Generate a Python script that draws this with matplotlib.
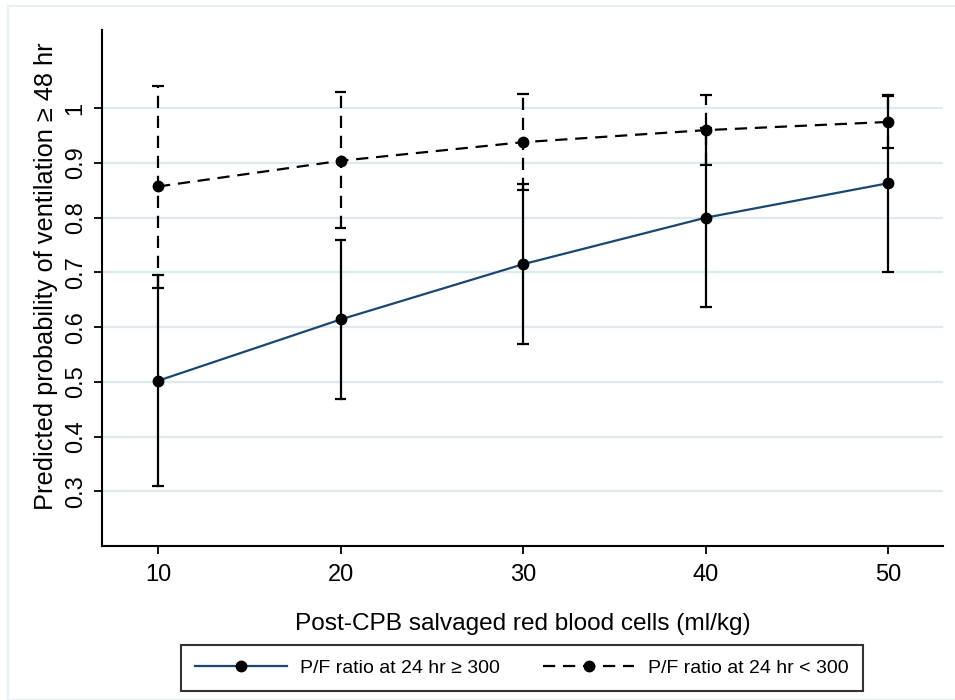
import matplotlib
matplotlib.use("Agg")
import matplotlib.pyplot as plt
from matplotlib.lines import Line2D
from matplotlib.patches import Rectangle

plt.rcParams['font.family'] = ['Liberation Sans', 'DejaVu Sans']

x_vals = [10, 20, 30, 40, 50]
# P/F ratio at 24 hr >= 300
solid_y = [0.502, 0.614, 0.715, 0.800, 0.863]
solid_lo = [0.309, 0.469, 0.569, 0.636, 0.701]
solid_hi = [0.695, 0.759, 0.861, 0.964, 1.025]
# P/F ratio at 24 hr < 300
dash_y = [0.857, 0.904, 0.938, 0.960, 0.975]
dash_lo = [0.672, 0.781, 0.850, 0.896, 0.927]
dash_hi = [1.041, 1.030, 1.026, 1.024, 1.023]

yticks = [0.3, 0.4, 0.5, 0.6, 0.7, 0.8, 0.9, 1.0]
ytick_labels = ['0.3', '0.4', '0.5', '0.6', '0.7', '0.8', '0.9', '1']
xticks = [10, 20, 30, 40, 50]

navy = '#1a476f'
grid_c = '#dfeaee'
DASH = (5.5, 3.5)

fig = plt.figure(figsize=(9.55, 7.0), dpi=100)
fig.patch.set_facecolor('white')
# outer light border
fig.patches.append(Rectangle((8/955, 0), 1, 1 - 6/700, transform=fig.transFigure,
                             fill=False, edgecolor='#e6eff2', linewidth=1.5))

ax = fig.add_axes([102/955, 1 - 546/700, (943 - 102)/955, (546 - 30)/700])
ax.set_xlim(6.93, 53.0)
ax.set_ylim(0.2, 1.143)

for yt in yticks:
    ax.axhline(yt, color=grid_c, linewidth=1.6, zorder=0)

# error bars
def bars(lo, hi, dashed):
    for xv, l, h in zip(x_vals, lo, hi):
        if dashed:
            ax.plot([xv, xv], [l, h], color='black', linewidth=1.6, dashes=DASH, zorder=2)
        else:
            ax.plot([xv, xv], [l, h], color='black', linewidth=1.6, zorder=2)
        for yy in (l, h):
            ax.plot([xv - 0.32, xv + 0.32], [yy, yy], color='black', linewidth=1.6,
                    solid_capstyle='butt', zorder=2)

bars(solid_lo, solid_hi, False)
bars(dash_lo, dash_hi, True)

ax.plot(x_vals, solid_y, color=navy, linewidth=1.6, zorder=3)
ax.plot(x_vals, dash_y, color='black', linewidth=1.6, dashes=DASH, zorder=3)
ax.plot(x_vals, solid_y, 'o', color='black', markersize=7.5, zorder=4)
ax.plot(x_vals, dash_y, 'o', color='black', markersize=7.5, zorder=4)

for s in ['top', 'right']:
    ax.spines[s].set_visible(False)
for s in ['left', 'bottom']:
    ax.spines[s].set_linewidth(1.5)
    ax.spines[s].set_color('black')

ax.set_yticks(yticks)
ax.set_yticklabels(ytick_labels, rotation=90, va='center')
ax.set_xticks(xticks)
ax.tick_params(axis='both', labelsize=17, width=1.3, length=6, color='black')
ax.tick_params(axis='x', pad=7)
ax.tick_params(axis='y', pad=5)

ax.set_xlabel('Post-CPB salvaged red blood cells (ml/kg)', fontsize=17.6)
ax.xaxis.set_label_coords(0.5, -0.13)
ax.set_ylabel('Predicted probability of ventilation ≥ 48 hr', fontsize=18.3)
ax.yaxis.set_label_coords(-0.052, 0.523)

h1 = Line2D([], [], color=navy, linewidth=1.6, marker='o', markersize=7.5,
            markerfacecolor='black', markeredgecolor='black')
h2 = Line2D([], [], color='black', linewidth=1.6, dashes=DASH, marker='o',
            markersize=7.5, markerfacecolor='black', markeredgecolor='black')
leg = fig.legend([h1, h2], ['P/F ratio at 24 hr ≥ 300', 'P/F ratio at 24 hr < 300'],
                 loc='center', bbox_to_anchor=(522/955, 1 - 668/700), ncol=2,
                 fontsize=14, frameon=True, fancybox=False, handlelength=4.7,
                 handletextpad=0.7, columnspacing=2.2, borderpad=0.75,
                 borderaxespad=0)
leg.get_frame().set_edgecolor('black')
leg.get_frame().set_linewidth(1.5)

fig.savefig('out.png', dpi=100, facecolor='white')
